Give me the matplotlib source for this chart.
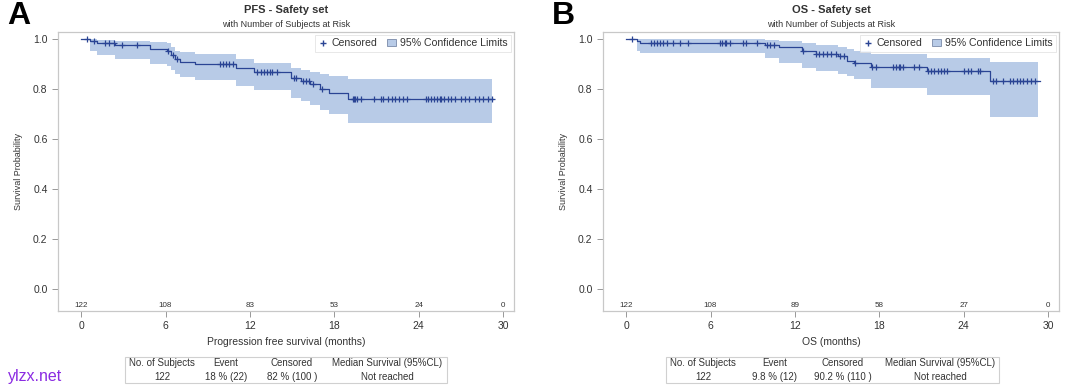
import numpy as np
import matplotlib
matplotlib.use("Agg")
import matplotlib.pyplot as plt
from matplotlib.lines import Line2D
from matplotlib.patches import Patch

# =========================
# Data
# =========================
PFS_EVENT_T = [0.6, 1.1, 2.4, 4.9, 6.1, 6.4, 6.7, 7.0, 8.1, 11.0, 12.3, 14.9, 15.6, 16.3, 17.0, 17.6, 19.0]
PFS_SURV    = [0.992, 0.984, 0.975, 0.958, 0.950, 0.934, 0.918, 0.909, 0.900, 0.883, 0.867, 0.845, 0.833, 0.819, 0.800, 0.783, 0.759]
PFS_UPPER   = [0.999, 0.996, 0.990, 0.986, 0.982, 0.968, 0.952, 0.947, 0.940, 0.920, 0.902, 0.884, 0.876, 0.868, 0.860, 0.852, 0.838]
PFS_LOWER   = [0.950, 0.935, 0.920, 0.900, 0.890, 0.875, 0.858, 0.846, 0.835, 0.812, 0.795, 0.765, 0.750, 0.735, 0.716, 0.700, 0.663]
PFS_END     = 29.3
PFS_CENSOR  = [0.4, 0.9, 1.7, 1.95, 2.3, 2.9, 4.0, 6.2, 6.5, 6.8, 9.9, 10.1, 10.3, 10.5, 10.8,
               12.5, 12.8, 13.0, 13.2, 13.4, 13.6, 13.9, 15.1, 15.3, 15.8, 16.0, 16.2, 16.5, 17.1,
               19.3, 19.4, 19.5, 19.6, 19.9, 20.8, 21.3, 21.5, 21.8, 22.1, 22.3, 22.6, 22.9, 23.2,
               24.5, 24.7, 24.9, 25.1, 25.3, 25.5, 25.6, 25.8, 26.1, 26.3, 26.6, 27.0, 27.3, 27.6,
               28.0, 28.3, 28.6, 28.9, 29.2]

OS_EVENT_T = [0.8, 1.0, 9.9, 10.9, 12.5, 13.5, 15.1, 15.7, 16.2, 17.4, 21.4, 25.9]
OS_SURV    = [0.992, 0.983, 0.975, 0.967, 0.950, 0.940, 0.930, 0.913, 0.903, 0.889, 0.872, 0.830]
OS_UPPER   = [1.000, 0.999, 0.995, 0.990, 0.982, 0.975, 0.968, 0.960, 0.952, 0.940, 0.925, 0.909]
OS_LOWER   = [0.950, 0.943, 0.923, 0.903, 0.883, 0.870, 0.860, 0.850, 0.840, 0.803, 0.776, 0.689]
OS_END     = 29.4
OS_CENSOR  = [0.45, 1.75, 2.0, 2.2, 2.4, 2.6, 2.9, 3.3, 3.8, 4.4, 6.7, 6.85, 7.0, 7.1, 7.4, 8.3, 8.5,
              9.3, 10.0, 10.2, 10.5, 12.6, 13.5, 13.7, 14.0, 14.3, 14.6, 14.9, 15.2, 15.5, 16.3,
              17.5, 17.8, 19.0, 19.2, 19.4, 19.5, 19.7, 20.5, 20.8, 21.5, 21.7, 21.9, 22.2, 22.4,
              22.6, 22.8, 24.0, 24.3, 24.5, 25.0, 25.2, 26.1, 26.3, 26.8, 27.3, 27.5, 27.8, 28.0,
              28.2, 28.5, 28.8, 29.1]

TICKS = [0, 6, 12, 18, 24, 30]
PFS_AT_RISK = [122, 108, 83, 53, 24, 0]
OS_AT_RISK  = [122, 108, 89, 58, 27, 0]

PFS_TABLE = ["122", "18 % (22)", "82 % (100 )", "Not reached"]
OS_TABLE  = ["122", "9.8 % (12)", "90.2 % (110 )", "Not reached"]
TABLE_HEAD = ["No. of Subjects", "Event", "Censored", "Median Survival (95%CL)"]

LINE_C = "#2a4494"
BAND_C = "#b8cbe7"
FRAME_C = "#c8c8c8"
TEXT_C = "#333333"

plt.rcParams['font.family'] = ['Liberation Sans', 'DejaVu Sans']

fig = plt.figure(figsize=(10.8, 3.91), dpi=100)


def km_panel(left, event_t, surv, upper, lower, end_t, censor, at_risk,
             letter, title, xlabel, table_vals, table_x, col_x):
    ax = fig.add_axes([left, 0.2046, 0.4222, 0.7136])
    t = np.concatenate([[0], event_t, [end_t]])
    s = np.concatenate([[1.0], surv, [surv[-1]]])
    up = np.concatenate([upper, [upper[-1]]])
    lo = np.concatenate([lower, [lower[-1]]])
    band_t = np.concatenate([event_t, [end_t - 0.1]])
    ax.fill_between(band_t, lo, up, step='post', color=BAND_C, lw=0)
    ax.step(t, s, where='post', color=LINE_C, lw=0.9)
    cs = s[np.searchsorted(t, censor, side='right') - 1]
    ax.plot(censor, cs, ls='none', marker='+', ms=5, mew=0.9, color=LINE_C)

    ax.set_xlim(-1.65, 30.78)
    ax.set_ylim(-0.088, 1.028)
    ax.set_xticks(TICKS)
    ax.set_yticks([0, 0.2, 0.4, 0.6, 0.8, 1.0])
    ax.set_yticklabels(["0.0", "0.2", "0.4", "0.6", "0.8", "1.0"])
    ax.tick_params(labelsize=7.5, colors="#888888", labelcolor=TEXT_C, length=4, width=0.6)
    for sp in ax.spines.values():
        sp.set_color(FRAME_C)
        sp.set_linewidth(0.9)
    ax.set_ylabel("Survival Probability", fontsize=6.5, color=TEXT_C, labelpad=7)
    ax.set_xlabel(xlabel, fontsize=7.5, color=TEXT_C, labelpad=4)

    for x, n in zip(TICKS, at_risk):
        ax.text(x, -0.064, str(n), ha='center', va='center', fontsize=5.8, color=TEXT_C)

    handles = [Line2D([], [], ls='none', marker='+', color=LINE_C, ms=5),
               Patch(facecolor=BAND_C, edgecolor="#7a8aa8", lw=0.6)]
    leg = ax.legend(handles, ["Censored", "95% Confidence Limits"], loc='upper right',
                    ncol=2, fontsize=7.6, frameon=True, fancybox=False,
                    borderpad=0.35, handlelength=0.8, handletextpad=0.4,
                    columnspacing=1.0, borderaxespad=0.25)
    leg.get_frame().set_edgecolor("#dddddd")
    leg.get_frame().set_linewidth(0.6)
    for txt in leg.get_texts():
        txt.set_color(TEXT_C)

    cx = left + 0.2111
    fig.text(cx, 0.974, title, ha='center', va='center', fontsize=8, fontweight='bold', color=TEXT_C)
    fig.text(cx, 0.938, "with Number of Subjects at Risk", ha='center', va='center', fontsize=6.5, color=TEXT_C)
    fig.text(left - 0.047, 0.958, letter, ha='left', va='center', fontsize=23, fontweight='bold', color="black")

    # summary table box
    x0, x1 = table_x
    box = plt.Rectangle((x0, 1 - 383 / 391), x1 - x0, 26 / 391, transform=fig.transFigure,
                        fill=False, edgecolor="#d0d0d0", lw=0.8)
    fig.add_artist(box)
    for c, h, v in zip(col_x, TABLE_HEAD, table_vals):
        fig.text(c, 1 - 363 / 391, h, ha='center', va='center', fontsize=7, color=TEXT_C)
        fig.text(c, 1 - 377 / 391, v, ha='center', va='center', fontsize=7, color=TEXT_C)
    return ax


km_panel(0.0537, PFS_EVENT_T, PFS_SURV, PFS_UPPER, PFS_LOWER, PFS_END, PFS_CENSOR, PFS_AT_RISK,
         "A", "PFS - Safety set", "Progression free survival (months)", PFS_TABLE,
         (125 / 1080, 447 / 1080), [162 / 1080, 226 / 1080, 292 / 1080, 387 / 1080])
km_panel(0.5583, OS_EVENT_T, OS_SURV, OS_UPPER, OS_LOWER, OS_END, OS_CENSOR, OS_AT_RISK,
         "B", "OS - Safety set", "OS (months)", OS_TABLE,
         (666 / 1080, 999 / 1080), [703 / 1080, 775 / 1080, 843 / 1080, 940 / 1080])

fig.text(8 / 1080, 1 - 377 / 391, "ylzx.net", ha='left', va='center', fontsize=11.5, color="#8a2be2")

fig.savefig("out.png", dpi=100)
